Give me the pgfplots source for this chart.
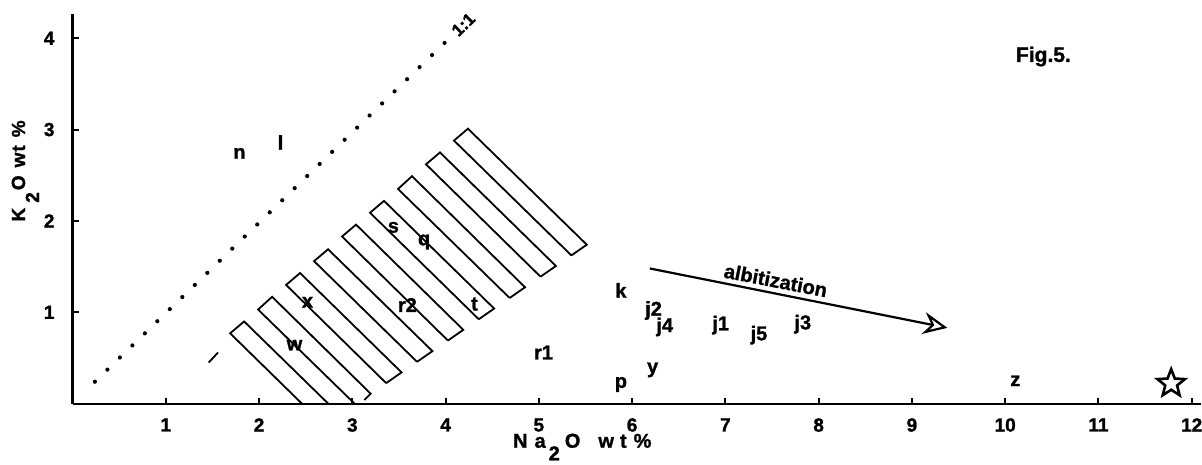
\documentclass[border=0pt]{standalone}
\usepackage{fontspec}
\setmainfont{Liberation Sans}[BoldFeatures={FakeBold=1.3}]
\usepackage{pgfplots}
\usepackage{pgfplotstable}
\pgfplotsset{compat=1.18}
\usetikzlibrary{arrows.meta}

\pgfdeclareplotmark{ostar}{%
  \pgfpathmoveto{\pgfpointpolar{90}{7.2pt}}%
  \pgfpathlineto{\pgfpointpolar{126}{3.1pt}}%
  \pgfpathlineto{\pgfpointpolar{162}{7.2pt}}%
  \pgfpathlineto{\pgfpointpolar{198}{3.1pt}}%
  \pgfpathlineto{\pgfpointpolar{234}{7.2pt}}%
  \pgfpathlineto{\pgfpointpolar{270}{3.1pt}}%
  \pgfpathlineto{\pgfpointpolar{306}{7.2pt}}%
  \pgfpathlineto{\pgfpointpolar{342}{3.1pt}}%
  \pgfpathlineto{\pgfpointpolar{18}{7.2pt}}%
  \pgfpathlineto{\pgfpointpolar{54}{3.1pt}}%
  \pgfpathclose
  \pgfusepathqstroke}

\pgfplotstableread{
x y lab
1.79 2.74 n
2.23 2.86 l
2.38 0.64 w
2.52 1.11 x
3.59 1.08 r2
3.44 1.93 s
3.77 1.77 q
4.31 1.09 t
5.88 1.24 k
6.23 1.02 j2
6.35 0.84 j4
6.95 0.86 j1
7.36 0.75 j5
7.83 0.87 j3
5.05 0.56 r1
6.22 0.37 y
5.88 0.21 p
10.11 0.25 z
}\samples

\begin{document}
\begin{tikzpicture}
\begin{axis}[
  scale only axis, width=564pt, height=194.5pt,
  xmin=0, xmax=12.1, ymin=0, ymax=4.26,
  axis x line=bottom, axis y line=left,
  axis line style={-, line width=1.1pt, black},
  xtick={1,2,3,4,5,6,7,8,9,10,11,12}, ytick={1,2,3,4},
  tick align=inside, major tick length=3pt,
  tick style={line width=1pt, black},
  /pgf/number format/assume math mode=true,
  ticklabel style={font=\fontsize{9.5}{10}\selectfont\bfseries},
  xticklabel style={yshift=-3.8pt},
  yticklabel style={xshift=-5.5pt},
  clip=false,
  hatch/.style={black, line width=0.9pt, line join=miter, mark=none},
]
\coordinate (bl) at (rel axis cs:0,0);
\coordinate (tr) at (rel axis cs:1,1);

% 1:1 dotted line
\addplot[black, line width=2.1pt, line cap=round, dash pattern=on 0pt off 8.69pt, mark=none]
  coordinates {(0.24,0.24) (3.99,3.95)};
\node[rotate=44, font=\fontsize{8.5}{10}\selectfont\bfseries, inner sep=0pt] at (axis cs:4.19,4.15) {1:1};

% hatched band
\addplot[hatch] coordinates {(1.46,0.45) (1.56,0.56)};
\addplot[hatch] coordinates {(2.46,0) (1.69,0.77) (1.84,0.90) (2.742,0)};
\addplot[hatch] coordinates {(3.024,0) (1.99,1.03) (2.14,1.17) (3.197,0.109) (3.13,0.04)};
\addplot[hatch] coordinates {(3.363,0.225) (2.29,1.30) (2.44,1.43) (3.528,0.342) (3.363,0.225)};
\addplot[hatch] coordinates {(3.694,0.458) (2.59,1.56) (2.74,1.69) (3.859,0.575) (3.694,0.458)};
\addplot[hatch] coordinates {(4.025,0.691) (2.89,1.83) (3.04,1.96) (4.19,0.808) (4.025,0.691)};
\addplot[hatch] coordinates {(4.356,0.924) (3.19,2.09) (3.34,2.22) (4.521,1.041) (4.356,0.924)};
\addplot[hatch] coordinates {(4.687,1.157) (3.49,2.35) (3.64,2.49) (4.852,1.274) (4.687,1.157)};
\addplot[hatch] coordinates {(5.018,1.39) (3.79,2.62) (3.94,2.75) (5.183,1.507) (5.018,1.39)};
\addplot[hatch] coordinates {(5.349,1.623) (4.09,2.88) (4.24,3.01) (5.514,1.74) (5.349,1.623)};

% sample labels
\addplot[only marks, mark=*, mark size=0pt, mark options={draw=none, fill=none},
  nodes near coords, point meta=explicit symbolic,
  every node near coord/.append style={anchor=center, inner sep=0pt, text=black,
    font=\fontsize{10}{11}\selectfont\bfseries}]
  table[x=x, y=y, meta=lab] {\samples};

% star
\addplot[only marks, mark=ostar, black, line width=1.3pt, mark options={line join=miter}]
  coordinates {(11.78,0.22)};

% albitization arrow
\addplot[black, line width=1.1pt, mark=none,
  -{Stealth[open, length=12pt, width=11pt, inset=4pt, line width=1.1pt]}]
  coordinates {(6.19,1.48) (9.38,0.83)};
\node[rotate=-11, font=\fontsize{10}{12}\selectfont\bfseries, inner sep=0pt] at (axis cs:7.54,1.35) {albitization};

\node[font=\fontsize{10.5}{12}\selectfont\bfseries, inner sep=0pt] at (axis cs:10.41,3.80) {Fig.5.};

% axis labels
\node[anchor=base west, inner sep=0pt, font=\fontsize{10}{11}\selectfont\bfseries]
  at ([yshift=-22pt]axis cs:4.72,0)
  {N\hspace{3.5pt}a\hspace{1.5pt}\raisebox{-6.3pt}{2}\hspace{2.5pt}O\hspace{9pt}w\hspace{3pt}t\hspace{3.5pt}\%};
\node[rotate=90, anchor=base west, inner sep=0pt, font=\fontsize{9.5}{11}\selectfont\bfseries]
  at ([xshift=-23.75pt]axis cs:0,1.99)
  {K\hspace{2.5pt}\raisebox{-7pt}{2}\hspace{1pt}O\hspace{4pt}w\hspace{0.5pt}t\hspace{4pt}\%};
\end{axis}
\pgfresetboundingbox
\path[use as bounding box] ([shift={(-36.25pt,-30.25pt)}]bl) rectangle ([shift={(0.5pt,7.25pt)}]tr);
\end{tikzpicture}
\end{document}
